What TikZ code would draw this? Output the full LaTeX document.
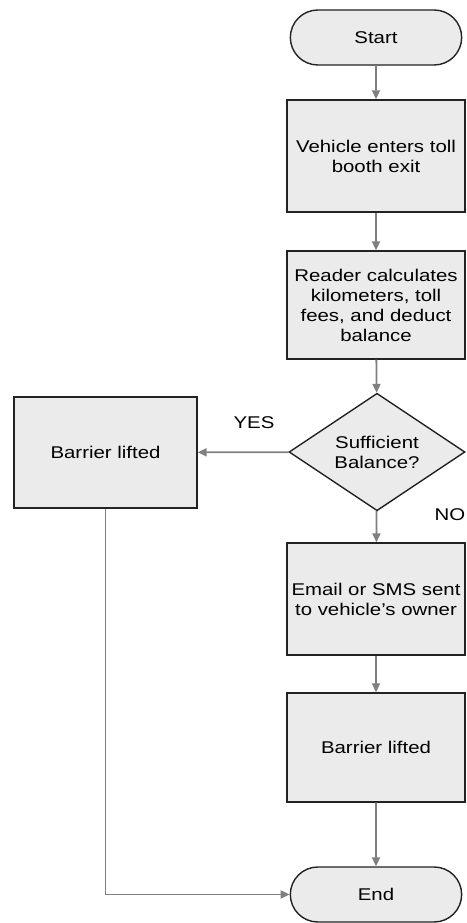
\documentclass[tikz,border=0pt]{standalone}
\usepackage{fontspec}
\setmainfont{Liberation Sans}[FakeStretch=1.2]
\usetikzlibrary{arrows.meta,shapes.geometric,shapes.misc}
\definecolor{boxfill}{HTML}{EBEBEB}
\definecolor{boxline}{HTML}{222222}
\definecolor{arrowc}{HTML}{7F7F7F}
\begin{document}
\begin{tikzpicture}[x=1pt,y=-1pt,
  font=\fontsize{17}{20}\selectfont,
  stepbox/.style={draw=boxline,line width=1.4pt,fill=boxfill,minimum width=178pt,align=center,inner sep=2pt},
  term/.style={draw=boxline,line width=1.4pt,fill=boxfill,rounded rectangle,minimum width=178pt,minimum height=55pt},
  decide/.style={draw=boxline,line width=1.4pt,fill=boxfill,diamond,minimum width=176pt,minimum height=110pt,inner sep=0pt,align=center},
  conn/.style={draw=arrowc,line width=1.8pt,-{Triangle[length=9pt,width=8pt]}}
]
\useasboundingbox (0,0) rectangle (466,923);
\node[term] (start) at (376,37.5) {Start};
\node[stepbox,minimum height=112pt] (b1) at (376,156) {Vehicle enters toll\\booth exit};
\node[stepbox,minimum height=108pt] (b2) at (376,305) {Reader calculates\\kilometers, toll\\fees, and deduct\\balance};
\node[decide] (d) at (377,452) {Sufficient\\Balance?};
\node[stepbox,minimum width=183pt,minimum height=111pt] (yes) at (105.5,452.5) {Barrier lifted};
\node[stepbox,minimum height=112pt] (mail) at (376,599) {Email or SMS sent\\to vehicle’s owner};
\node[stepbox,minimum height=109pt] (b3) at (376,747.5) {Barrier lifted};
\node[term] (end) at (376,894.5) {End};
\node (lyes) at (254,423) {YES};
\node (lno) at (450,515) {NO};
\draw[conn] (start) -- (b1);
\draw[conn] (b1) -- (b2);
\draw[conn] (b2) -- (d);
\draw[conn] (d) -- (yes);
\draw[conn] (d) -- (mail);
\draw[conn] (mail) -- (b3);
\draw[conn] (b3) -- (end);
\draw[conn] (yes.south) |- (end.west);
\end{tikzpicture}
\end{document}
